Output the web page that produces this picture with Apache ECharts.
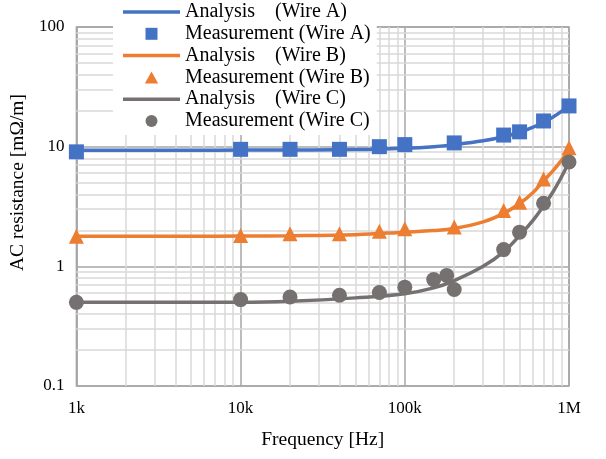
<!DOCTYPE html>
<html>
<head>
<meta charset="utf-8">
<script src="https://cdn.jsdelivr.net/npm/echarts@6/dist/echarts.min.js"></script>
<style>
  html, body { margin: 0; padding: 0; background: #fff; }
  #chart { width: 606px; height: 459px; }
</style>
</head>
<body>
<div id="chart"></div>
<script>
// measured points
const measFreqAB = [1000, 10000, 20000, 40000, 70000, 100000, 200000, 400000, 500000, 700000, 1000000];
const measA = [9.05, 9.5, 9.5, 9.5, 10.0, 10.4, 10.75, 12.5, 13.3, 16.4, 21.9];
const measB = [1.78, 1.81, 1.87, 1.87, 1.96, 2.06, 2.13, 2.93, 3.43, 5.38, 9.8];
const measFreqC = [1000, 10000, 20000, 40000, 70000, 100000, 150000, 180000, 200000, 400000, 500000, 700000, 1000000];
const measC = [0.50, 0.527, 0.555, 0.573, 0.604, 0.67, 0.775, 0.84, 0.64, 1.38, 1.93, 3.37, 7.45];

// analysis curves
const anaFreq = [1000, 2000, 5000, 10000, 20000, 50000, 100000, 150000, 200000, 300000, 400000, 500000, 600000, 700000, 800000, 900000, 1000000];
const anaA = [9.35, 9.35, 9.35, 9.36, 9.38, 9.45, 9.7, 10.0, 10.4, 11.2, 12.1, 13.2, 14.5, 16.0, 17.7, 19.7, 22.0];
const anaB = [1.78, 1.78, 1.78, 1.79, 1.8, 1.84, 1.93, 1.99, 2.07, 2.35, 2.77, 3.35, 4.1, 5.2, 6.3, 7.7, 9.3];
const anaC = [0.5, 0.5, 0.5, 0.5, 0.51, 0.545, 0.59, 0.66, 0.76, 1.0, 1.32, 1.81, 2.4, 3.2, 4.2, 5.6, 7.4];

// axis ticks
const xTickValues = [1000, 10000, 100000, 1000000];
const xTickLabels = ['1k', '10k', '100k', '1M'];
const yTickValues = [0.1, 1, 10, 100];
const yTickLabels = ['0.1', '1', '10', '100'];

// minor grid positions
const minorX = [];
const minorY = [];
[1000, 10000, 100000].forEach(d => { for (let k = 2; k <= 9; k++) minorX.push(d * k); });
[0.1, 1, 10].forEach(d => { for (let k = 2; k <= 9; k++) minorY.push(+(d * k).toFixed(2)); });

const legendNames = [
  'Analysis    (Wire A)', 'Measurement (Wire A)',
  'Analysis    (Wire B)', 'Measurement (Wire B)',
  'Analysis    (Wire C)', 'Measurement (Wire C)'
];

const BLUE = '#4472C4', ORANGE = '#ED7D31', GRAY = '#767171';
const FONT = '"Liberation Serif", "Times New Roman", serif';

// legend icons: thin bar for lines, small marks for measurements
const LINE_ICON = 'path://M0 0H57V3.5H0Z';
const SQUARE_ICON = 'path://M0 0H10V10H0Z';
const TRI_ICON = 'path://M5 0L10 9H0Z';
const DOT_ICON = 'path://M5 0A5 5 0 1 1 5 10A5 5 0 1 1 5 0Z';

const zip = (xs, ys) => xs.map((x, i) => [x, ys[i]]);

const chart = echarts.init(document.getElementById('chart'));

const lineSeries = (name, ys, color) => ({
  name, type: 'line', data: zip(anaFreq, ys), smooth: 0.4, symbol: 'none',
  lineStyle: { color, width: 3.5 }, itemStyle: { color }, z: 3
});
const scatterSeries = (name, xs, ys, color, symbol, size) => ({
  name, type: 'scatter', data: zip(xs, ys), symbol, symbolSize: size,
  itemStyle: { color, opacity: 1 }, z: 4
});

chart.setOption({
  animation: false,
  textStyle: { fontFamily: FONT, color: '#000' },
  grid: {
    left: 75, right: 37, top: 27, bottom: 73,
    show: true, borderColor: '#a6a6a6', borderWidth: 1.5
  },
  legend: {
    data: [
      { name: legendNames[0], icon: LINE_ICON, itemStyle: { color: BLUE } },
      { name: legendNames[1], icon: SQUARE_ICON, itemStyle: { color: BLUE } },
      { name: legendNames[2], icon: LINE_ICON, itemStyle: { color: ORANGE } },
      { name: legendNames[3], icon: TRI_ICON, itemStyle: { color: ORANGE } },
      { name: legendNames[4], icon: LINE_ICON, itemStyle: { color: GRAY } },
      { name: legendNames[5], icon: DOT_ICON, itemStyle: { color: GRAY } }
    ],
    orient: 'vertical',
    left: 113, top: 0, z: 10,
    padding: [2, 6, 4, 10],
    backgroundColor: '#fff',
    symbolKeepAspect: true,
    itemWidth: 57, itemHeight: 12, itemGap: 1.8,
    textStyle: { fontFamily: FONT, fontSize: 20, color: '#000', lineHeight: 20 }
  },
  xAxis: {
    type: 'log', logBase: 10, min: 1000, max: 1000000,
    name: 'Frequency [Hz]', nameLocation: 'middle', nameGap: 44,
    nameTextStyle: { fontFamily: FONT, fontSize: 19.5, color: '#000' },
    axisLine: { show: false }, axisTick: { show: false },
    axisLabel: {
      fontFamily: FONT, fontSize: 17, color: '#000', margin: 14,
      formatter: v => { const i = xTickValues.indexOf(v); return i >= 0 ? xTickLabels[i] : ''; }
    },
    splitLine: { show: true, lineStyle: { color: '#a6a6a6', width: 1.5 } }
  },
  yAxis: {
    type: 'log', logBase: 10, min: 0.1, max: 100,
    name: 'AC resistance [mΩ/m]', nameLocation: 'middle', nameGap: 42,
    nameTextStyle: { fontFamily: FONT, fontSize: 19.5, color: '#000', padding: [0, 0, 0, 48] },
    axisLine: { show: false }, axisTick: { show: false },
    axisLabel: {
      fontFamily: FONT, fontSize: 17, color: '#000', margin: 12,
      formatter: v => { const i = yTickValues.findIndex(t => Math.abs(t - v) < 1e-9); return i >= 0 ? yTickLabels[i] : ''; }
    },
    splitLine: { show: true, lineStyle: { color: '#a6a6a6', width: 1.5 } }
  },
  series: [
    {
      type: 'line', data: [], silent: true, z: 1,
      markLine: {
        z: 1,
        silent: true, symbol: ['none', 'none'], animation: false,
        label: { show: false },
        lineStyle: { type: 'solid', color: '#d9d9d9', width: 1.5 },
        emphasis: { disabled: true },
        data: [...minorX.map(v => ({ xAxis: v })), ...minorY.map(v => ({ yAxis: v }))]
      }
    },
    lineSeries(legendNames[0], anaA, BLUE),
    scatterSeries(legendNames[1], measFreqAB, measA, BLUE, 'rect', 15),
    lineSeries(legendNames[2], anaB, ORANGE),
    scatterSeries(legendNames[3], measFreqAB, measB, ORANGE, 'triangle', 15),
    lineSeries(legendNames[4], anaC, GRAY),
    scatterSeries(legendNames[5], measFreqC, measC, GRAY, 'circle', 15)
  ]
});
</script>
</body>
</html>
